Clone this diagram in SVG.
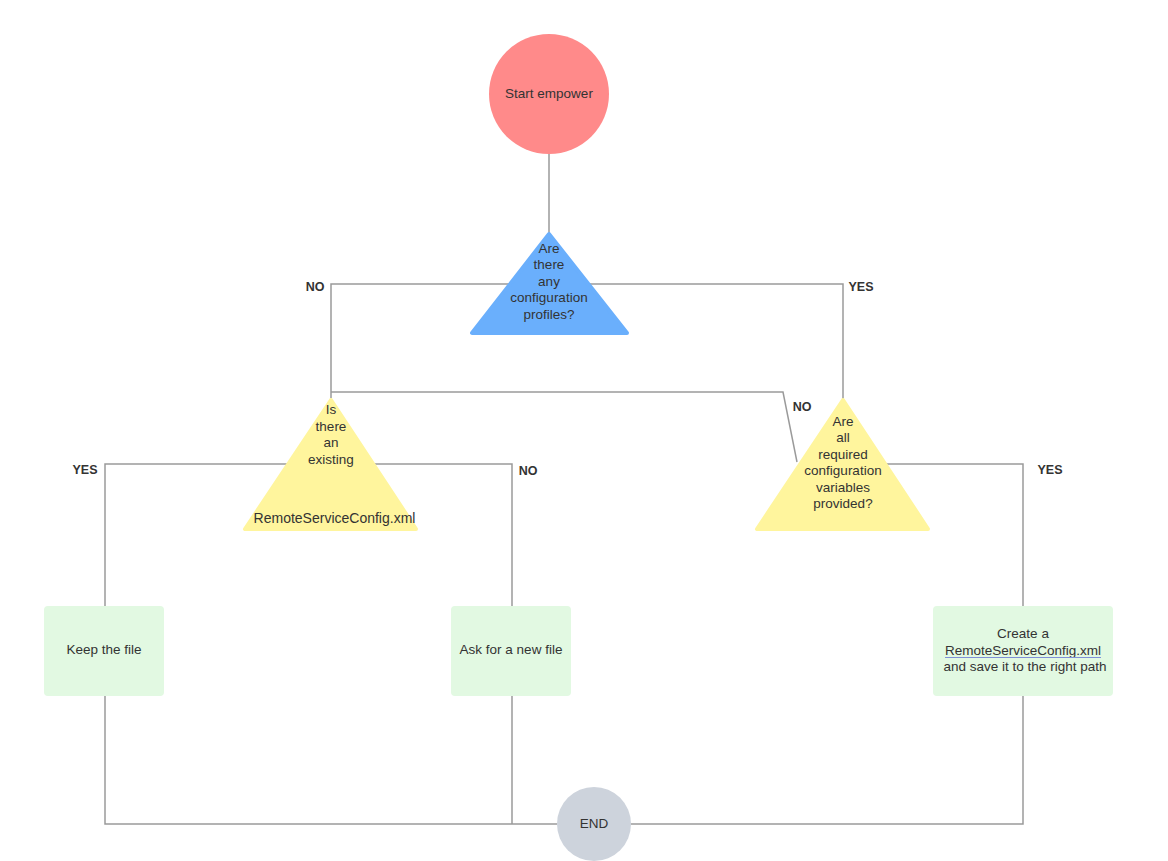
<svg xmlns="http://www.w3.org/2000/svg" width="1168" height="861" viewBox="0 0 1168 861">
<style>
.t{font-family:"Liberation Sans",Arial,sans-serif;font-size:13.5px;fill:#333;text-anchor:middle}
.lbl{font-family:"Liberation Sans",Arial,sans-serif;font-size:12.5px;font-weight:bold;fill:#333;text-anchor:middle}
.c{fill:none;stroke:#9a9a9a;stroke-width:1.5}
.box{fill:#e2f9e2}
.tri{stroke-linejoin:round;stroke-width:4}
</style>
<rect width="1168" height="861" fill="#ffffff"/>
<g id="connectors">
<path class="c" d="M549 154 V234"/>
<path class="c" d="M510 284 H331 V398"/>
<path class="c" d="M588 284 H843 V400"/>
<path class="c" d="M331 392 H783 L797 462"/>
<path class="c" d="M302 464 H105 V606"/>
<path class="c" d="M360 464 H512 V606"/>
<path class="c" d="M873 464 H1023 V606"/>
<path class="c" d="M105 696 V824 H557"/>
<path class="c" d="M512 696 V824"/>
<path class="c" d="M1023 696 V824 H631"/>
<text class="lbl" x="315" y="291">NO</text>
<text class="lbl" x="861" y="291">YES</text>
<text class="lbl" x="802" y="411">NO</text>
<text class="lbl" x="85" y="474">YES</text>
<text class="lbl" x="528" y="475">NO</text>
<text class="lbl" x="1050" y="474">YES</text>
</g>
<g id="start">
<circle cx="549" cy="94" r="60" fill="#ff8a8a"/>
<text class="t" x="549" y="98">Start empower</text>
</g>
<g id="q-profiles">
<polygon class="tri" points="549,234 472,333 627,333" fill="#6aaffc" stroke="#6aaffc"/>
<text class="t" x="549" y="253">Are</text>
<text class="t" x="549" y="269">there</text>
<text class="t" x="549" y="286">any</text>
<text class="t" x="549" y="302">configuration</text>
<text class="t" x="549" y="319">profiles?</text>
</g>
<g id="q-existing">
<polygon class="tri" points="331,400 245,529 416,529" fill="#fff59d" stroke="#fff59d"/>
<text class="t" x="331" y="414">Is</text>
<text class="t" x="331" y="431">there</text>
<text class="t" x="331" y="447">an</text>
<text class="t" x="331" y="464">existing</text>
<text class="t" x="334.5" y="523" style="font-size:14px">RemoteServiceConfig.xml</text>
</g>
<g id="q-variables">
<polygon class="tri" points="843,400 757,529 928,529" fill="#fff59d" stroke="#fff59d"/>
<text class="t" x="843" y="426">Are</text>
<text class="t" x="843" y="442">all</text>
<text class="t" x="843" y="459">required</text>
<text class="t" x="843" y="475">configuration</text>
<text class="t" x="843" y="492">variables</text>
<text class="t" x="843" y="508">provided?</text>
</g>
<g id="keep">
<rect class="box" x="44" y="606" width="120" height="90" rx="4"/>
<text class="t" x="104" y="654">Keep the file</text>
</g>
<g id="ask">
<rect class="box" x="451" y="606" width="120" height="90" rx="4"/>
<text class="t" x="511" y="654">Ask for a new file</text>
</g>
<g id="create">
<rect class="box" x="933" y="606" width="180" height="90" rx="4"/>
<text class="t" x="1023" y="638">Create a</text>
<text class="t" x="1023" y="655">RemoteServiceConfig.xml</text>
<line x1="945" y1="657.5" x2="1101" y2="657.5" stroke="#7f8fd6" stroke-width="1"/>
<text class="t" x="1025" y="671">and save it to the right path</text>
</g>
<g id="end">
<circle cx="594" cy="824" r="37" fill="#cdd3dc"/>
<text class="t" x="594" y="828">END</text>
</g>
</svg>
